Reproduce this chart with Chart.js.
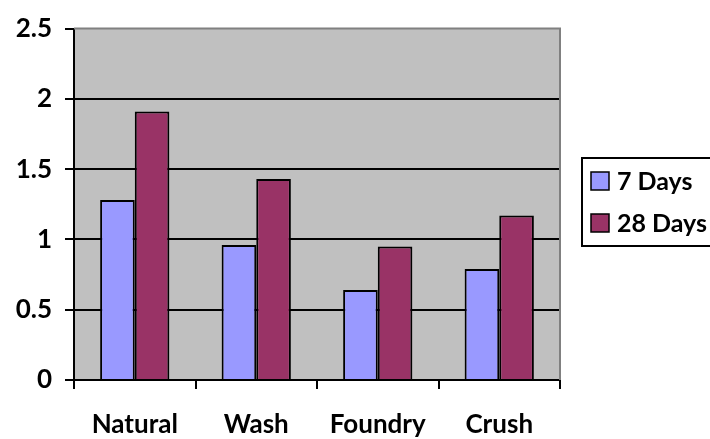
<!DOCTYPE html>
<html>
<head>
<meta charset="utf-8">
<script src="https://cdn.jsdelivr.net/npm/chart.js@4"></script>
<style>
  html, body { margin: 0; padding: 0; background: #fff; }
  #wrap { width: 710px; height: 439px; }
</style>
</head>
<body>
<div id="wrap"><canvas id="chart" width="710" height="439"></canvas></div>
<script>
const categories = ['Natural', 'Wash', 'Foundry', 'Crush'];
const days7 = [1.28, 0.96, 0.64, 0.79];
const days28 = [1.91, 1.43, 0.95, 1.17];
const yTicks = [0, 0.5, 1, 1.5, 2, 2.5];

const FONT = 'Lato, "Open Sans", sans-serif';

// grey plot background + grey top/right border
const plotBg = {
   id: 'plotBg',
   beforeDraw(chart) {
      const { ctx, chartArea: a } = chart;
      ctx.save();
      ctx.fillStyle = '#c0c0c0';
      ctx.fillRect(a.left, a.top, a.right - a.left, a.bottom - a.top);
      ctx.restore();
   },
   afterDatasetsDraw(chart) {
      const { ctx, chartArea: a } = chart;
      ctx.save();
      ctx.strokeStyle = '#808080';
      ctx.lineWidth = 2;
      ctx.beginPath();
      ctx.moveTo(a.left, a.top);
      ctx.lineTo(a.right, a.top);
      ctx.lineTo(a.right, a.bottom);
      ctx.stroke();
      ctx.restore();
   }
};

// boxed legend on the right
const boxLegend = {
   id: 'boxLegend',
   afterDraw(chart) {
      const { ctx, chartArea: a } = chart;
      const x = a.right + 22, y = 158, w = 130, h = 88;
      ctx.save();
      ctx.fillStyle = '#fff';
      ctx.fillRect(x, y, w, h);
      ctx.strokeStyle = '#000';
      ctx.lineWidth = 2;
      ctx.strokeRect(x, y, w, h);
      ctx.font = 'bold 25px ' + FONT;
      ctx.textBaseline = 'middle';
      chart.data.datasets.forEach((ds, i) => {
         const cy = y + 23 + i * 42;
         ctx.fillStyle = ds.backgroundColor;
         ctx.fillRect(x + 9, cy - 9, 18, 18);
         ctx.lineWidth = 1.5;
         ctx.strokeRect(x + 9, cy - 9, 18, 18);
         ctx.fillStyle = '#000';
         ctx.fillText(ds.label, x + 35, cy + 1);
      });
      ctx.restore();
   }
};

new Chart(document.getElementById('chart'), {
   type: 'bar',
   data: {
      labels: categories,
      datasets: [
         {
            label: '7 Days',
            data: days7,
            backgroundColor: '#9999ff',
            borderColor: '#000',
            borderWidth: 2,
            categoryPercentage: 0.57,
            barPercentage: 1
         },
         {
            label: '28 Days',
            data: days28,
            backgroundColor: '#993366',
            borderColor: '#000',
            borderWidth: 2,
            categoryPercentage: 0.57,
            barPercentage: 1
         }
      ]
   },
   options: {
      responsive: false,
      animation: false,
      layout: { padding: { top: 24, right: 150, left: 0, bottom: 0 } },
      plugins: {
         legend: { display: false },
         tooltip: { enabled: false }
      },
      scales: {
         x: {
            afterFit: (s) => { s.height = 59; },
            grid: {
               offset: true,
               drawOnChartArea: false,
               color: '#000',
               lineWidth: 2,
               tickLength: 9
            },
            border: { color: '#000', width: 2 },
            ticks: {
               color: '#000',
               padding: 20,
               font: { family: FONT, size: 26, weight: 'bold' }
            }
         },
         y: {
            min: 0,
            max: 2.5,
            afterFit: (s) => { s.width = 74; },
            afterBuildTicks: (s) => { s.ticks = yTicks.map(v => ({ value: v })); },
            grid: {
               color: (c) => c.tick && c.tick.value === 2.5 ? 'rgba(0,0,0,0)' : '#000',
               lineWidth: 2,
               tickLength: 9,
               tickColor: '#000'
            },
            border: { color: '#000', width: 2 },
            ticks: {
               color: '#000',
               padding: 13,
               callback: (v) => String(v),
               font: { family: FONT, size: 26, weight: 'bold' }
            }
         }
      }
   },
   plugins: [plotBg, boxLegend]
});
</script>
</body>
</html>
